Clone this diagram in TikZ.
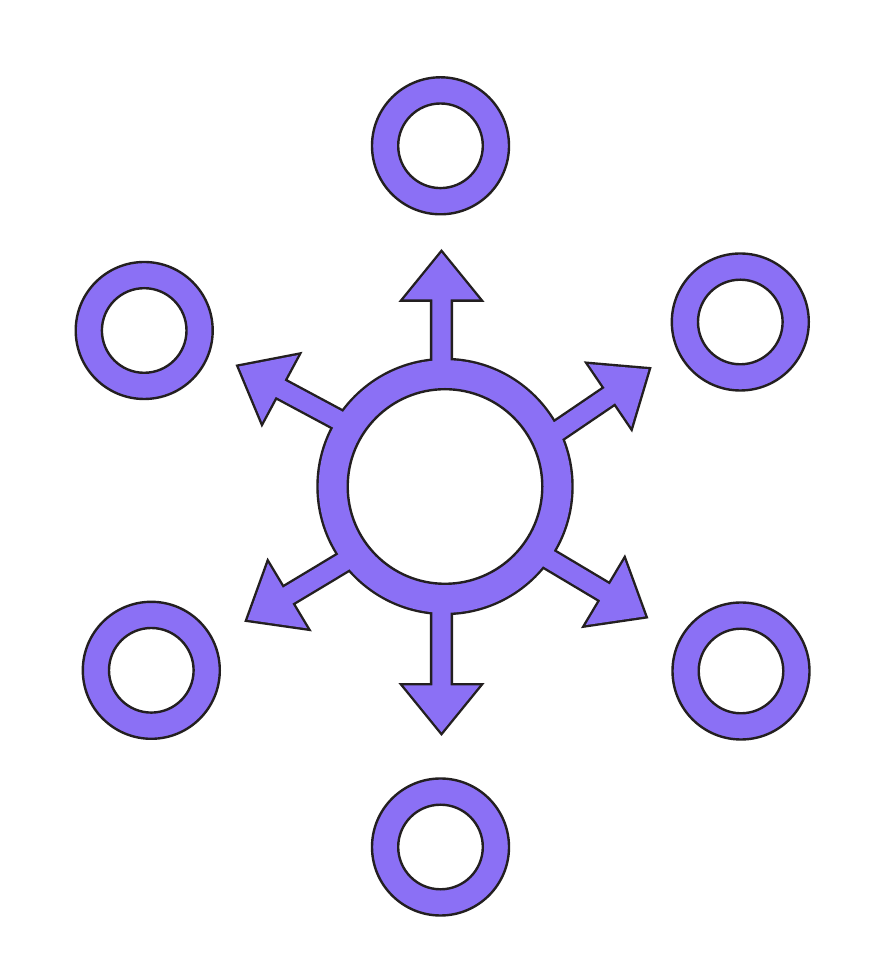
\documentclass[tikz,border=0pt]{standalone}
\definecolor{ringfill}{RGB}{139,112,245}
\definecolor{ringline}{RGB}{35,31,32}
\tikzset{
  x=1pt, y=1pt,
  outline/.style={draw=ringline, line width=2.4pt},
  outlinedouble/.style={draw=ringline, line width=4.8pt, line join=miter},
  purplefill/.style={fill=ringfill},
  hole/.style={draw=ringline, line width=2.4pt, fill=white},
}
\newcommand{\myarrow}[4]{%
  \path[#4, shift={(#1,#2)}, rotate=#3]
    (-1.8,0) -- (-48.5,38) -- (-48.5,9.2) -- (-190,9.2) -- (-190,-9.2) -- (-48.5,-9.2) -- (-48.5,-38) -- cycle;}
\newcommand{\allarrows}[1]{%
  \myarrow{441.5}{704}{90}{#1}
  \myarrow{441.5}{221}{-90}{#1}
  \myarrow{237.3}{589.3}{151.8}{#1}
  \myarrow{650}{586.7}{34.2}{#1}
  \myarrow{246}{334.3}{211}{#1}
  \myarrow{646.7}{337.7}{-30.8}{#1}}
\newcommand{\smallring}[3]{%
  \coordinate (#1) at (#2,#3);
  \path[outline, purplefill] (#1) circle[radius=68.5];
  \path[hole] (#1) circle[radius=42.3];}
\begin{document}
\begin{tikzpicture}
  \useasboundingbox[fill=white] (0,0) rectangle (892,955);
  \coordinate (hub) at (445,468.5);
  % central hub with arrows as one outlined shape
  \allarrows{outlinedouble}
  \path[outlinedouble] (hub) circle[radius=126.3];
  \allarrows{purplefill}
  \path[purplefill] (hub) circle[radius=126.3];
  \path[hole] (hub) circle[radius=97.3];
  % outer rings
  \smallring{top}{440.5}{809.2}
  \smallring{ul}{144.2}{624.5}
  \smallring{ur}{740.3}{633}
  \smallring{ll}{151.3}{284.7}
  \smallring{lr}{741}{284}
  \smallring{bot}{440.5}{108}
\end{tikzpicture}
\end{document}
